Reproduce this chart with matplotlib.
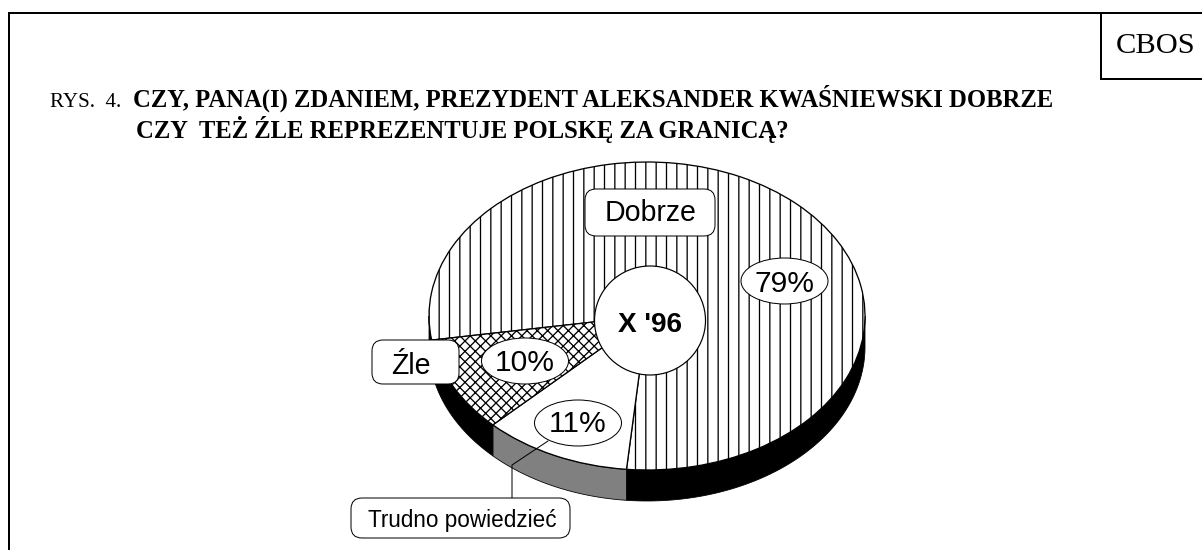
import numpy as np
import matplotlib
matplotlib.use("Agg")
import matplotlib.pyplot as plt
from matplotlib.patches import Ellipse, FancyBboxPatch

W, H, DPI = 1202, 550, 124
def pt(px):
    return px * 72 / DPI

labels = ["Dobrze", "Trudno powiedzieć", "Źle"]
values = [79, 11, 10]
pct_labels = ["79%", "11%", "10%"]
side_colors = ["black", "#808080", "black"]
hatches = ["||", None, "xxxx"]
wave = "X '96"
title_prefix = "RYS.  4."
title_line1 = "CZY, PANA(I) ZDANIEM, PREZYDENT ALEKSANDER KWAŚNIEWSKI DOBRZE"
title_line2 = "CZY  TEŻ ŹLE REPREZENTUJE POLSKĘ ZA GRANICĄ?"
source = "CBOS"

plt.rcParams["hatch.linewidth"] = pt(1.3)
fig = plt.figure(figsize=((W + 0.01) / DPI, (H + 0.01) / DPI), dpi=DPI, facecolor="white")

cx, cy, rx, ry, depth = 647, 316, 218, 154, 31
ax = fig.add_axes([(cx - rx) / W, 1 - (cy + ry) / H, 2 * rx / W, 2 * ry / H])
start = -171
wedges, _ = ax.pie(values, startangle=start, counterclock=False, radius=1,
                   wedgeprops=dict(facecolor="white", edgecolor="black", linewidth=pt(1.3)))
for w, h in zip(wedges, hatches):
    if h:
        w.set_hatch(h)
    w.set_clip_on(False)
    w.set_zorder(3)
ax.set_aspect("auto")
ax.set_xlim(-1, 1)
ax.set_ylim(-1, 1)
ax.axis("off")

d = depth / ry
angle = start
for v, col in zip(values, side_colors):
    a2 = angle
    a1 = angle - v * 3.6
    for lo, hi in [(-180, 0), (-540, -360)]:
        t1, t2 = max(a1, lo), min(a2, hi)
        if t2 > t1:
            t = np.radians(np.linspace(t1, t2, 80))
            xs = np.cos(t)
            ys = np.sin(t)
            ax.fill(np.r_[xs, xs[::-1]], np.r_[ys, ys[::-1] - d], facecolor=col,
                    edgecolor="black", linewidth=pt(0.8), clip_on=False, zorder=2)
    angle = a1

ov = fig.add_axes([0, 0, 1, 1], facecolor="none")
ov.set_xlim(0, W)
ov.set_ylim(H, 0)
ov.axis("off")

ov.plot([9, 9, W], [H, 13, 13], color="black", lw=pt(2), solid_joinstyle="miter")
ov.plot([1101, 1101, W], [13, 79, 79], color="black", lw=pt(2), solid_joinstyle="miter")

serif = "Liberation Serif"
sans = "Liberation Sans"
ov.text(1116, 53, source, family=serif, fontsize=pt(30.5), va="baseline", ha="left")
ov.text(50, 106.5, title_prefix, family=serif, fontsize=pt(21), va="baseline", ha="left")
ov.text(133, 106.5, title_line1, family=serif, weight="bold", fontsize=pt(24.66), va="baseline", ha="left")
ov.text(136, 137.5, title_line2, family=serif, weight="bold", fontsize=pt(24.7), va="baseline", ha="left")

ov.add_patch(Ellipse((650, 320.5), 111, 109, fc="white", ec="black", lw=pt(1.2), zorder=5))
ov.text(649.5, 331.5, wave, family=sans, weight="bold", fontsize=pt(28), ha="center", va="baseline", zorder=6)

pct_pos = [(784.5, 281), (578, 423), (525, 361)]
pct_base = [291.7, 432.3, 371]
for txt, (ex, ey), by in zip(pct_labels, pct_pos, pct_base):
    ov.add_patch(Ellipse((ex, ey), 87, 46, fc="white", ec="black", lw=pt(1), zorder=5))
    ov.text(ex - 0.5, by, txt, family=sans, fontsize=pt(30), ha="center", va="baseline", zorder=6)

ov.plot([548, 512, 512], [441, 465, 498], color="black", lw=pt(1), zorder=4)

def box(x0, y0, x1, y1, r):
    return FancyBboxPatch((x0 + r, y0 + r), x1 - x0 - 2 * r, y1 - y0 - 2 * r,
                          boxstyle=f"round,pad={r},rounding_size={r}",
                          fc="white", ec="black", lw=pt(1), zorder=5)

ov.add_patch(box(585, 189, 715, 236, 11))
ov.text(650.5, 220.7, labels[0], family=sans, fontsize=pt(28.5), ha="center", va="baseline", zorder=6)
ov.add_patch(box(372, 340, 459, 384, 11))
ov.text(411, 374, labels[2], family=sans, fontsize=pt(28.5), ha="center", va="baseline", zorder=6)
ov.add_patch(box(351, 498, 570, 538, 11))
ov.text(462.5, 526.7, labels[1], family=sans, fontsize=pt(22.5), ha="center", va="baseline", zorder=6)

fig.savefig("out.png", dpi=DPI, facecolor="white")
